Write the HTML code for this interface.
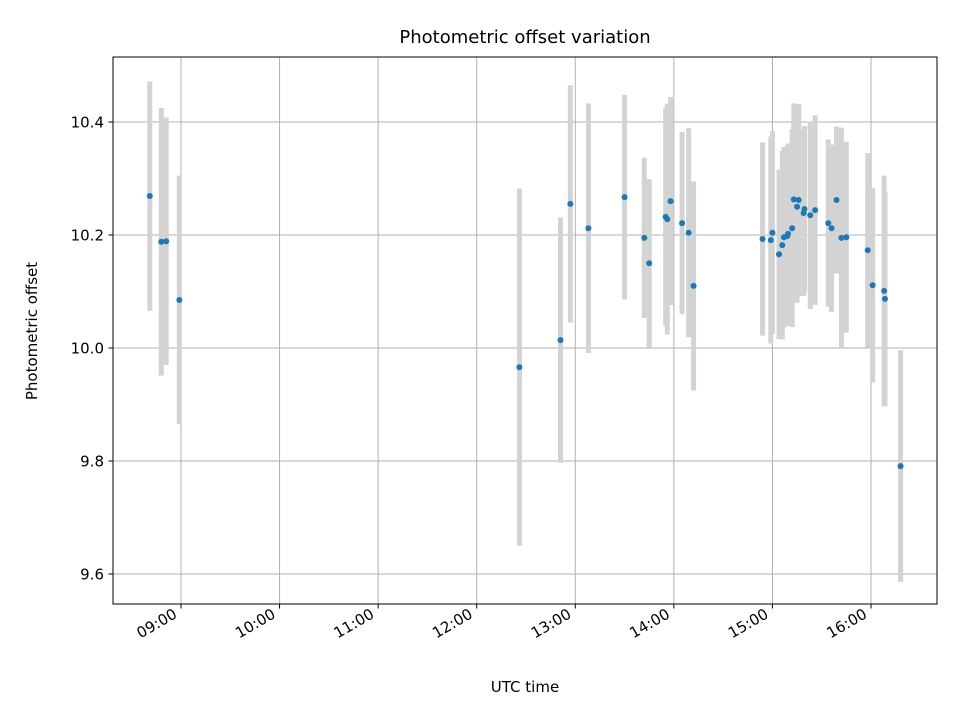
<!DOCTYPE html>
<html><head><meta charset="utf-8"><style>
body{margin:0;background:#fff}
svg text{font-family:"DejaVu Sans","Liberation Sans",sans-serif;fill:#000}
</style></head><body>
<svg id="chart" width="960" height="720" viewBox="0 0 960 720" xmlns="http://www.w3.org/2000/svg">
<rect width="960" height="720" fill="#fff"/>
<g id="grid"></g>
<g id="bars"></g>
<g id="pts"></g>
<rect x="113" y="57" width="824" height="547" fill="none" stroke="#000" stroke-width="1"/>
<g id="axes"></g>
<text x="525" y="43" text-anchor="middle" font-size="18">Photometric offset variation</text>
<text x="525" y="692" text-anchor="middle" font-size="15">UTC time</text>
<text transform="translate(37,331) rotate(-90)" text-anchor="middle" font-size="15">Photometric offset</text>
</svg>
<script>
const times=["08:41","08:48","08:51","08:59","12:26","12:51","12:57","13:08","13:30","13:42","13:45","13:55","13:56","13:58","14:05","14:09","14:12","14:54","14:59","15:00","15:04","15:06","15:07","15:09","15:09:30","15:12","15:13","15:15","15:16","15:19","15:19:30","15:23","15:26","15:34","15:36","15:39","15:42","15:45","15:58","16:01","16:08","16:08:30","16:18"];
const values=[10.269,10.188,10.189,10.085,9.966,10.014,10.255,10.212,10.267,10.195,10.150,10.232,10.228,10.260,10.221,10.204,10.110,10.193,10.191,10.204,10.166,10.182,10.196,10.198,10.202,10.212,10.263,10.250,10.262,10.239,10.246,10.235,10.244,10.221,10.212,10.262,10.195,10.196,10.173,10.111,10.101,10.087,9.791];
const errors=[0.203,0.237,0.219,0.220,0.316,0.217,0.210,0.221,0.181,0.142,0.149,0.192,0.204,0.184,0.161,0.185,0.185,0.171,0.183,0.180,0.150,0.167,0.160,0.159,0.160,0.175,0.170,0.170,0.170,0.147,0.147,0.166,0.168,0.148,0.148,0.130,0.195,0.169,0.172,0.172,0.204,0.190,0.205];
const xTicks=["09:00","10:00","11:00","12:00","13:00","14:00","15:00","16:00"];
const yTicks=[9.6,9.8,10.0,10.2,10.4];
const NS="http://www.w3.org/2000/svg";
function hrs(s){const p=s.split(":").map(Number);return p[0]+p[1]/60+(p[2]||0)/3600;}
function xs(h){return 181+(h-9)*98.57;}
function ys(v){return 348-(v-10)*565;}
function mk(tag,attrs,parent){const e=document.createElementNS(NS,tag);for(const k in attrs)e.setAttribute(k,attrs[k]);parent.appendChild(e);return e;}
const grid=document.getElementById('grid'),axes=document.getElementById('axes'),bars=document.getElementById('bars'),pts=document.getElementById('pts');
xTicks.forEach(t=>{const x=xs(hrs(t));
 const g=mk('line',{x1:x,x2:x,y1:57,y2:604,stroke:'#b0b0b0','stroke-width':1},grid);
 
 const tk=mk('line',{x1:x,x2:x,y1:604,y2:608.5,stroke:'#000'},axes);
 
 const ax=x-3,ay=617;
 const tx=mk('text',{x:ax,y:ay,'text-anchor':'end','font-size':'15',transform:`rotate(-30 ${ax} ${ay})`},axes);
 tx.textContent=t;});
yTicks.forEach(v=>{const y=ys(v);
 const g=mk('line',{x1:113,x2:937,y1:y,y2:y,stroke:'#b0b0b0','stroke-width':1},grid);
 
 const tk=mk('line',{x1:108.5,x2:113,y1:y,y2:y,stroke:'#000'},axes);
 
 const tx=mk('text',{x:104,y:y+5.5,'text-anchor':'end','font-size':'15'},axes);
 tx.textContent=v.toFixed(1);});
times.forEach((t,i)=>{const x=xs(hrs(t));
 const b=mk('line',{x1:x,x2:x,y1:ys(values[i]+errors[i]),y2:ys(values[i]-errors[i]),stroke:'#d3d3d3','stroke-width':5},bars);
 });
times.forEach((t,i)=>{const x=xs(hrs(t));
 const c=mk('circle',{cx:x,cy:ys(values[i]),r:3,fill:'#1f77b4'},pts);
 });
</script>
</body></html>
